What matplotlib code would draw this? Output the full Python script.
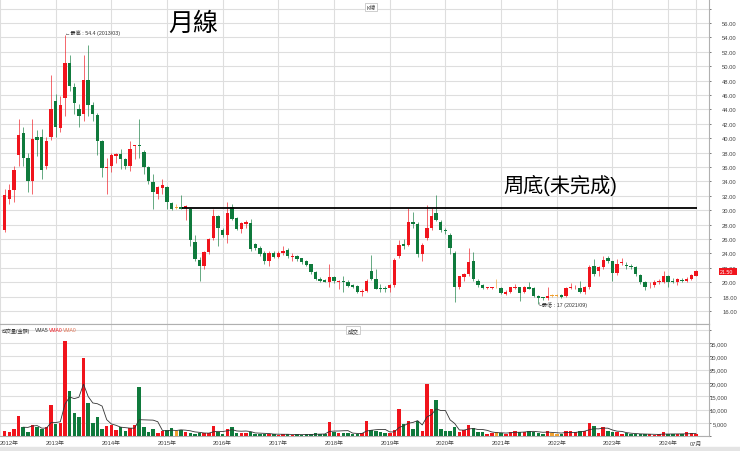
import numpy as np
import pandas as pd
import matplotlib
matplotlib.use('Agg')
import matplotlib.pyplot as plt
from matplotlib.patches import Rectangle
from matplotlib.transforms import blended_transform_factory

plt.rcParams['font.family'] = ['Liberation Sans', 'Noto Sans CJK TC', 'DejaVu Sans']

# 月份序號 (0 = 2012/01), 資料從 2012/02 到 2024/07
months = list(range(1, 151))

opens = [
    27.2, 31.6, 32.8, 37.6, 40.7, 37.2, 34.1, 40.1, 40.1, 36.2,
    40.1, 45.2, 41.4, 45.6, 50.5, 47.1, 44.1, 43.3, 48.1, 44.6,
    43.2, 39.6, 35.8, 36.2, 37.5, 37.8, 37.1, 36.1, 38.9, 39.0,
    38.1, 36.0, 33.9, 32.3, 33.1, 33.2, 31.0, 30.3, 30.5, 30.3,
    30.2, 25.6, 23.1, 22.3, 24.2, 26.1, 29.2, 27.2, 26.6, 30.4,
    28.9, 27.4, 28.1, 28.2, 25.3, 24.8, 24.1, 23.0, 24.1, 23.5,
    24.1, 24.5, 23.55, 23.6, 23.3, 23.0, 22.5, 21.4, 20.5, 20.35,
    20.0, 20.7, 20.0, 20.2, 20.1, 19.6, 19.5, 18.6, 18.8, 21.5,
    20.5, 19.2, 19.2, 19.2, 19.6, 23.6, 25.3, 25.2, 28.3, 28.1,
    23.9, 26.2, 27.6, 29.6, 28.4, 27.2, 26.6, 24.1, 19.3, 20.7,
    21.1, 22.9, 20.2, 19.6, 19.2, 19.2, 19.3, 19.2, 18.4, 18.7,
    19.25, 19.3, 18.7, 19.4, 19.2, 18.1, 17.85, 17.8, 18.1, 18.1,
    18.2, 18.1, 19.2, 19.3, 19.2, 18.6, 19.3, 22.3, 21.5, 22.1,
    23.3, 22.9, 21.3, 22.65, 22.35, 22.3, 22.1, 21.0, 20.0, 19.55,
    19.6, 20.0, 20.1, 20.8, 20.1, 20.1, 20.25, 20.2, 20.5, 20.9,
]
highs = [
    33.0, 33.6, 36.2, 42.7, 41.5, 38.0, 42.7, 41.2, 41.3, 40.2,
    48.8, 46.1, 45.8, 54.4, 51.5, 47.6, 44.8, 51.5, 52.9, 45.0,
    43.5, 39.7, 37.3, 38.0, 38.0, 38.5, 37.3, 39.6, 39.1, 42.7,
    38.3, 36.2, 35.0, 33.3, 34.3, 33.4, 31.1, 30.9, 32.1, 30.7,
    30.3, 26.5, 23.5, 24.3, 26.1, 30.2, 29.4, 27.5, 31.1, 30.9,
    29.0, 28.4, 28.6, 28.8, 25.5, 25.0, 24.3, 24.3, 24.3, 24.3,
    25.1, 24.7, 24.05, 23.8, 23.4, 23.1, 22.6, 21.5, 20.7, 20.5,
    22.5, 20.9, 20.3, 20.9, 20.3, 19.8, 19.6, 19.0, 20.5, 23.8,
    21.8, 19.8, 19.5, 19.7, 23.3, 25.9, 26.0, 30.3, 29.7, 28.3,
    25.4, 30.7, 30.3, 32.1, 28.6, 27.6, 26.8, 24.3, 20.9, 21.3,
    24.8, 24.2, 20.4, 19.8, 19.4, 19.4, 20.4, 19.3, 18.9, 19.4,
    19.8, 19.4, 19.5, 20.0, 19.3, 18.2, 18.0, 19.3, 18.4, 18.3,
    18.3, 19.4, 19.9, 19.6, 20.2, 19.5, 22.4, 23.2, 22.3, 23.7,
    23.7, 23.0, 23.2, 23.3, 22.8, 22.6, 22.3, 21.1, 20.2, 20.0,
    20.3, 20.4, 21.5, 21.0, 20.6, 20.6, 20.6, 20.7, 21.1, 21.7,
]
lows = [
    27.0, 30.9, 31.1, 36.2, 36.2, 32.5, 32.3, 37.5, 34.3, 35.7,
    39.7, 40.1, 40.9, 43.1, 46.6, 43.3, 41.5, 42.4, 43.1, 42.4,
    37.7, 34.6, 32.2, 35.3, 36.5, 35.7, 35.7, 35.5, 37.1, 37.3,
    35.0, 33.6, 30.2, 31.6, 32.2, 30.2, 30.0, 30.1, 30.1, 28.6,
    25.1, 23.0, 20.2, 21.8, 23.9, 25.8, 25.0, 26.3, 25.5, 28.6,
    27.2, 26.8, 27.5, 24.4, 24.5, 23.7, 22.5, 22.3, 23.3, 23.3,
    23.8, 23.4, 23.0, 23.0, 22.6, 22.2, 21.2, 20.3, 20.0, 20.0,
    19.3, 19.9, 19.0, 18.6, 19.3, 19.2, 18.5, 18.1, 18.6, 20.3,
    19.0, 18.6, 18.7, 18.6, 19.4, 23.4, 24.6, 25.0, 27.6, 23.5,
    23.0, 25.8, 27.3, 28.5, 27.0, 26.7, 23.9, 17.2, 19.0, 20.2,
    20.9, 20.2, 19.4, 19.0, 19.0, 19.0, 19.2, 18.3, 18.2, 18.5,
    19.0, 17.4, 18.5, 19.0, 17.9, 17.0, 17.5, 17.6, 17.9, 17.9,
    17.8, 18.0, 19.0, 19.1, 18.5, 18.4, 19.1, 20.8, 20.9, 21.9,
    22.7, 20.2, 21.0, 22.4, 21.8, 21.8, 20.9, 19.8, 18.9, 19.2,
    19.4, 19.8, 19.9, 19.4, 19.9, 19.6, 20.0, 20.0, 20.3, 20.8,
]
closes = [
    32.1, 32.8, 35.6, 40.4, 37.2, 34.1, 39.9, 39.7, 35.6, 39.6,
    44.1, 41.5, 44.6, 50.5, 47.2, 44.9, 43.1, 48.1, 44.6, 43.3,
    39.6, 35.9, 36.0, 37.6, 37.8, 37.1, 36.1, 38.5, 39.0, 38.9,
    36.0, 34.1, 32.5, 33.2, 33.5, 31.1, 30.2, 30.3, 30.2, 30.6,
    25.9, 23.2, 22.3, 24.2, 26.0, 29.2, 27.5, 26.6, 29.6, 28.8,
    27.4, 28.2, 28.4, 24.6, 24.7, 23.9, 23.0, 24.1, 23.5, 24.1,
    24.4, 23.6, 23.6, 23.2, 22.85, 22.4, 21.4, 20.5, 20.2, 20.1,
    20.7, 20.2, 20.2, 20.0, 19.5, 19.4, 18.6, 18.8, 20.2, 20.5,
    19.1, 19.1, 19.1, 19.6, 23.1, 25.2, 25.1, 28.3, 28.1, 23.9,
    25.2, 27.5, 29.2, 28.7, 27.2, 27.15, 24.7, 19.3, 20.8, 21.1,
    22.8, 20.45, 19.6, 19.2, 19.3, 19.3, 19.3, 18.5, 18.7, 19.3,
    19.3, 18.5, 19.4, 19.1, 18.1, 17.8, 17.8, 18.1, 18.1, 18.1,
    18.0, 19.2, 19.4, 19.4, 18.6, 19.3, 22.1, 21.1, 22.1, 23.1,
    22.9, 21.3, 22.5, 22.75, 22.3, 22.1, 21.1, 20.0, 19.3, 19.6,
    20.0, 20.2, 20.8, 20.0, 20.05, 20.4, 20.2, 20.5, 21.0, 21.5,
]
# 成交量(金額)
volumes = [
    1900, 1500, 2750, 7500, 3400, 1500, 4250, 3400, 2750, 3400,
    11750, 4500, 4900, 35600, 17000, 8600, 7100, 29500, 12400, 4900,
    7100, 2750, 4000, 4400, 2400, 3600, 1900, 3000, 4250, 18400,
    3400, 1500, 2750, 1250, 2100, 2400, 3000, 2100, 2500, 1500,
    1250, 900, 1250, 1250, 1250, 3750, 1750, 900, 2750, 3400,
    1250, 1250, 1250, 1750, 800, 900, 700, 1000, 700, 600,
    800, 700, 600, 700, 600, 700, 800, 1100, 800, 900,
    5500, 1500, 1250, 1250, 1100, 900, 900, 1100, 5900, 2500,
    1900, 1500, 1100, 1200, 2500, 10250, 4600, 5900, 2750, 5900,
    2100, 19600, 10250, 13600, 2750, 2100, 2100, 3400, 1500, 2500,
    4250, 3000, 1500, 1500, 900, 1250, 1750, 1250, 900, 1500,
    2100, 1750, 1750, 1900, 1750, 1250, 900, 2100, 1250, 900,
    900, 2100, 1900, 1500, 1900, 2100, 4900, 3750, 1250, 3400,
    1900, 1500, 1500, 900, 1100, 800, 900, 800, 700, 700,
    600, 700, 1500, 800, 700, 700, 900, 1500, 1250, 800,
]

year_ticks = [0, 12, 24, 36, 48, 60, 72, 84, 96, 108, 120, 132, 144, 150]
year_labels = ['2012年', '2013年', '2014年', '2015年', '2016年', '2017年', '2018年',
               '2019年', '2020年', '2021年', '2022年', '2023年', '2024年', '07月']
price_grid = list(range(16, 60, 2))
vol_grid = [0, 5000, 10000, 15000, 20000, 25000, 30000, 35000, 40000]

neckline = 30.3
last_price = 21.50

RED = '#f0141c'
GREEN = '#0f7a3c'
ORANGE = '#f0a030'
GRID = '#dedede'

o = np.array(opens)
c = np.array(closes)
cols = [RED if cc > oo else (GREEN if cc < oo else ORANGE) for oo, cc in zip(o, c)]

W, H = 740, 452
fig = plt.figure(figsize=(W / 100, H / 100), dpi=100, facecolor='white')
ax_p = fig.add_axes([0, 1 - 325 / H, 709 / W, 325 / H])
ax_v = fig.add_axes([0, 1 - 437.3 / H, 709 / W, 112.3 / H], sharex=ax_p)

# K線
ax_p.vlines(months, lows, highs, colors=cols, lw=0.6, alpha=0.75, zorder=2)
bottoms = np.minimum(o, c)
heights = np.maximum(np.abs(c - o), 0.1)
ax_p.bar(months, heights, bottom=bottoms, width=0.72, color=cols, lw=0, zorder=3)

ax_p.set_xlim(0, 152.8)
ax_p.set_ylim(14.2, 59.33)
ax_p.set_xticks(year_ticks)
ax_p.set_yticks(price_grid)
ax_p.set_yticklabels([f'{v:.2f}' if v <= 56 else '' for v in price_grid])
ax_p.yaxis.tick_right()
ax_p.tick_params(axis='y', labelsize=4.2, colors='#444444', length=1.5, pad=8, width=0.5)
ax_p.tick_params(axis='x', labelbottom=False, length=0)
ax_p.grid(True, color=GRID, lw=0.8, zorder=0)

# 周底頸線
ax_p.hlines(neckline, 39.3, 150.2, color='black', lw=1.3, zorder=4)

# 最高 / 最低
ax_p.text(14, 54.75, '←最高 : 54.4 (2013/03)', fontsize=3.8, color='#333333',
          ha='left', va='center', zorder=5)
ax_p.text(115.9, 16.95, '└最低 : 17 (2021/09)', fontsize=3.8, color='#333333',
          ha='left', va='center', zorder=5)

# 最新價 (紅底標籤)
tr = blended_transform_factory(ax_p.transAxes, ax_p.transData)
ax_p.add_patch(Rectangle((1.0141, last_price - 0.5), 0.0254, 1.0, transform=tr,
                         facecolor=RED, edgecolor='none', clip_on=False, zorder=6))
ax_p.text(1.0155, last_price - 0.03, f'{last_price:.2f}', transform=tr, fontsize=3.8,
          color='white', ha='left', va='center', clip_on=False, zorder=7)

# 成交量
ax_v.bar(months, volumes, width=0.75, color=cols, lw=0, zorder=3)
vma5 = pd.Series(volumes, index=months).rolling(5).mean()
ax_v.plot(vma5.index, vma5.values, color='#333333', lw=0.6, zorder=4)

ax_v.set_ylim(0, 42100)
ax_v.set_yticks(vol_grid)
ax_v.set_yticklabels([f'{v:,}' if 0 < v <= 35000 else '' for v in vol_grid])
ax_v.yaxis.tick_right()
ax_v.tick_params(axis='y', labelsize=4.2, colors='#444444', length=1.5, pad=12, width=0.5)
for lab in ax_v.get_yticklabels():
    lab.set_horizontalalignment('right')
ax_v.set_xticks(year_ticks)
ax_v.set_xticklabels(year_labels)
ax_v.tick_params(axis='x', labelsize=4.2, colors='#444444', length=0, pad=3)
ax_v.get_xticklabels()[0].set_horizontalalignment('left')
ax_v.grid(True, color=GRID, lw=0.8, zorder=0)

for ax in (ax_p, ax_v):
    for s in ax.spines.values():
        s.set_color('#b0b0b0')
        s.set_linewidth(0.8)
    ax.spines['left'].set_visible(False)
ax_p.spines['top'].set_visible(False)

# 標題文字
fig.text(193 / W, 1 - 24 / H, '月線', fontsize=18, ha='center', va='center')
fig.text(560 / W, 1 - 185 / H, '周底(未完成)', fontsize=14.5, ha='center', va='center')
fig.text(371 / W, 1 - 8 / H, 'K線', fontsize=4, ha='center', va='center', color='#333333',
         bbox=dict(boxstyle='square,pad=0.25', fc='white', ec='#bbbbbb', lw=0.5))
fig.text(353 / W, 1 - 331 / H, '成交', fontsize=4, ha='center', va='center', color='#333333',
         bbox=dict(boxstyle='square,pad=0.25', fc='white', ec='#bbbbbb', lw=0.5))

legend_parts = [('成交量(金額)', 2, '#333333'), ('VMA5', 35, '#333333'),
                ('VMA0', 49, RED), ('VMA0', 63, '#e07050')]
for txt, px, col in legend_parts:
    fig.text(px / W, 1 - 331 / H, txt, fontsize=3.6, ha='left', va='center', color=col)

fig.patches.append(Rectangle((0, 0), 1, 4 / H, transform=fig.transFigure,
                             color='#e4e4e4', zorder=0))

fig.savefig('out.png', dpi=100, facecolor='white')
